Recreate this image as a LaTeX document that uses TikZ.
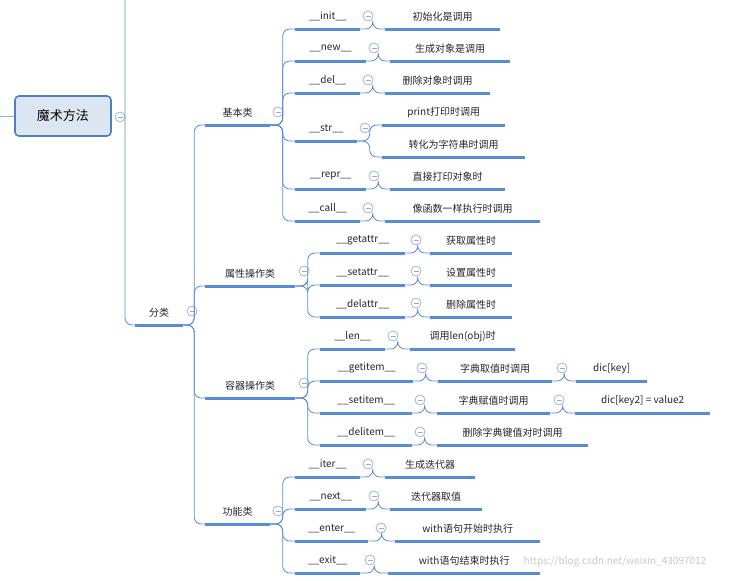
\documentclass[tikz,border=0pt]{standalone}
\usepackage{fontspec}
\setmainfont{Noto Sans CJK SC}
\usetikzlibrary{calc}
\definecolor{ulc}{RGB}{86,141,214}
\definecolor{circc}{RGB}{150,172,214}
\definecolor{boxf}{RGB}{220,230,242}
\definecolor{boxd}{RGB}{79,129,189}
\tikzset{
 tn/.style={anchor=south west,inner sep=0pt,minimum height=25pt,font=\fontsize{10}{12}\selectfont,text=black!85},
 ulstyle/.style={draw=ulc,line width=3pt},
 conn/.style={draw=ulc,line width=0.8pt,rounded corners=7pt},
 cc/.style={circle,draw=circc,line width=0.7pt,minimum size=10pt,inner sep=0pt,
   path picture={\draw[circc,line width=0.7pt] ([xshift=2.5pt]path picture bounding box.west) -- ([xshift=-2.5pt]path picture bounding box.east);}},
}
\newcommand\tnode[5]{\node[tn,minimum width={#3pt-#2pt}] (#1) at (#2,#4) {#5};}
\newcommand\ccn[3]{\node[cc] (#1) at (#2,#3) {};}
\newcommand\cnx[2]{\draw[conn] (#1.south east) -- ($(#1.south east)!.5!(#1.south east -| #2.south west)$) |- (#2.south west);}
\begin{document}
\begin{tikzpicture}[x=1pt,y=-1pt]
\useasboundingbox (0,0) rectangle (732,581);
% root
\node[draw=boxd,fill=boxf,line width=1.6pt,rounded corners=4pt,minimum width=96pt,minimum height=40pt,font=\fontsize{13}{15}\selectfont] (root) at (63,116) {魔术方法};
\coordinate (lft) at (0,116);
\draw[draw=ulc!70,line width=0.8pt] (lft) -- (root.west);
\ccn{croot}{120}{117}
\coordinate (top) at (125,0);
% level1
\tnode{fl}{135}{183}{325}{分类}
\ccn{cfl}{192}{311}
\draw[conn] (top) |- (fl.south west);
% level2
\tnode{jb}{205}{270}{125}{基本类}
\tnode{sx}{205}{295}{286}{属性操作类}
\tnode{rq}{205}{295}{398}{容器操作类}
\tnode{gn}{205}{270}{524}{功能类}
\ccn{cjb}{278}{112}\ccn{csx}{304}{271}\ccn{crq}{304}{383}\ccn{cgn}{278}{511}
\foreach \c in {jb,sx,rq,gn}{\cnx{fl}{\c}}
% basic
\tnode{init}{295}{360}{29}{\_\_init\_\_}
\tnode{new}{295}{366}{61}{\_\_new\_\_}
\tnode{del}{295}{360}{93}{\_\_del\_\_}
\tnode{str}{295}{357}{141}{\_\_str\_\_}
\tnode{repr}{295}{366}{189}{\_\_repr\_\_}
\tnode{call}{295}{360}{221}{\_\_call\_\_}
\foreach \c in {init,new,del,str,repr,call}{\cnx{jb}{\c}}
\ccn{c1}{368}{16}\ccn{c2}{374}{48}\ccn{c3}{368}{80}\ccn{c4}{365}{128}\ccn{c5}{374}{176}\ccn{c6}{368}{208}
\tnode{initv}{385}{500}{29}{初始化是调用}
\tnode{newv}{390}{510}{61}{生成对象是调用}
\tnode{delv}{385}{490}{93}{删除对象时调用}
\tnode{strv1}{382}{505}{125}{print打印时调用}
\tnode{strv2}{382}{525}{157}{转化为字符串时调用}
\tnode{reprv}{390}{505}{189}{直接打印对象时}
\tnode{callv}{385}{540}{221}{像函数一样执行时调用}
\cnx{init}{initv}\cnx{new}{newv}\cnx{del}{delv}\cnx{str}{strv1}\cnx{str}{strv2}\cnx{repr}{reprv}\cnx{call}{callv}
% attr
\tnode{ga}{320}{405}{253}{\_\_getattr\_\_}
\tnode{sa}{320}{405}{285}{\_\_setattr\_\_}
\tnode{da}{320}{405}{317}{\_\_delattr\_\_}
\foreach \c in {ga,sa,da}{\cnx{sx}{\c}}
\ccn{c7}{416}{240}\ccn{c8}{416}{271}\ccn{c9}{416}{303}
\tnode{gav}{430}{512}{253}{获取属性时}
\tnode{sav}{430}{512}{285}{设置属性时}
\tnode{dav}{430}{512}{317}{删除属性时}
\cnx{ga}{gav}\cnx{sa}{sav}\cnx{da}{dav}
% container
\tnode{len}{320}{385}{349}{\_\_len\_\_}
\tnode{gi}{320}{413}{381}{\_\_getitem\_\_}
\tnode{si}{320}{412}{413}{\_\_setitem\_\_}
\tnode{di}{320}{412}{445}{\_\_delitem\_\_}
\foreach \c in {len,gi,si,di}{\cnx{rq}{\c}}
\ccn{c10}{393}{336}\ccn{c11}{422}{368}\ccn{c12}{420}{400}\ccn{c13}{420}{432}
\tnode{lenv}{410}{515}{349}{调用len(obj)时}
\tnode{giv}{438}{552}{381}{字典取值时调用}
\tnode{siv}{437}{550}{413}{字典赋值时调用}
\tnode{div}{437}{588}{445}{删除字典键值对时调用}
\cnx{len}{lenv}\cnx{gi}{giv}\cnx{si}{siv}\cnx{di}{div}
\ccn{c14}{562}{368}\ccn{c15}{559}{400}
\tnode{giv2}{576}{647}{381}{dic[key]}
\tnode{siv2}{575}{710}{413}{dic[key2] = value2}
\cnx{giv}{giv2}\cnx{siv}{siv2}
% function
\tnode{iter}{295}{360}{477}{\_\_iter\_\_}
\tnode{next}{295}{366}{509}{\_\_next\_\_}
\tnode{enter}{295}{368}{541}{\_\_enter\_\_}
\tnode{exit}{295}{360}{573}{\_\_exit\_\_}
\foreach \c in {iter,next,enter,exit}{\cnx{gn}{\c}}
\ccn{c16}{368}{464}\ccn{c17}{374}{496}\ccn{c18}{381}{528}\ccn{c19}{370}{560}
\tnode{iterv}{385}{475}{477}{生成迭代器}
\tnode{nextv}{390}{482}{509}{迭代器取值}
\tnode{enterv}{395}{540}{541}{with语句开始时执行}
\tnode{exitv}{388}{540}{573}{with语句结束时执行}
\cnx{iter}{iterv}\cnx{next}{nextv}\cnx{enter}{enterv}\cnx{exit}{exitv}
% underlines
\foreach \n in {fl,jb,sx,rq,gn,init,new,del,str,repr,call,initv,newv,delv,strv1,strv2,reprv,callv,ga,sa,da,gav,sav,dav,len,gi,si,di,lenv,giv,siv,div,giv2,siv2,iter,next,enter,exit,iterv,nextv,enterv,exitv}
 {\draw[ulstyle] (\n.south west) -- (\n.south east);}
\node[text=black!22,font=\fontsize{10}{12}\selectfont] (wm) at (615,562) {https://blog.csdn.net/weixin\_43097012};
\end{tikzpicture}
\end{document}
